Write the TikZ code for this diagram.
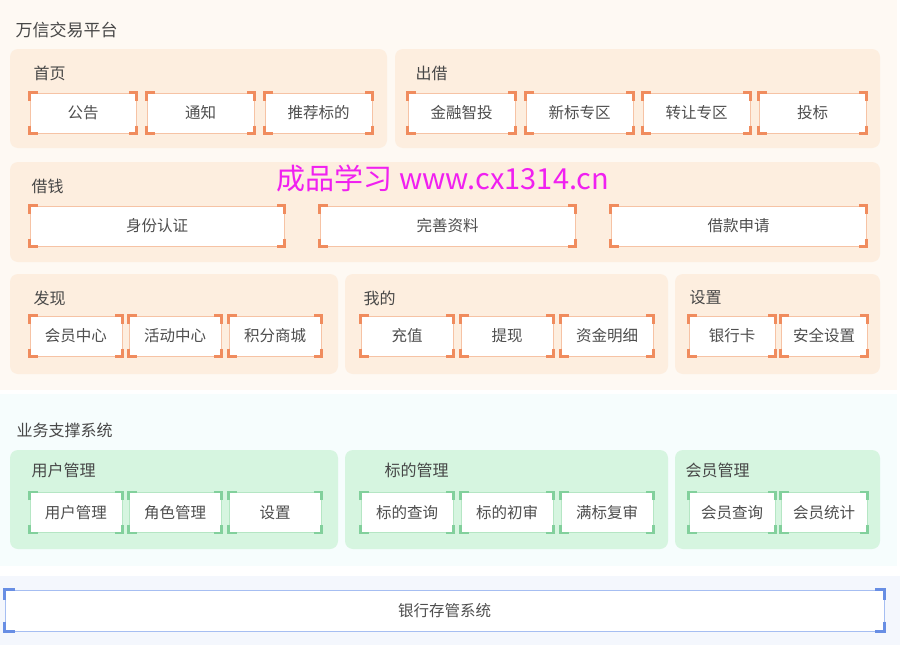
\documentclass[tikz,border=0pt]{standalone}
\usepackage{fontspec}
\setmainfont{Noto Sans CJK SC}
\usepackage{tikz}
\usetikzlibrary{positioning}
\definecolor{topBg}{RGB}{254,249,243}
\definecolor{midBg}{RGB}{246,253,253}
\definecolor{botBg}{RGB}{244,247,253}
\definecolor{palePeach}{RGB}{253,238,223}
\definecolor{paleGreen}{RGB}{214,245,224}
\definecolor{darkOrange}{RGB}{240,140,94}
\definecolor{lightOrange}{RGB}{246,195,165}
\definecolor{darkGreen}{RGB}{130,208,156}
\definecolor{lightGreen}{RGB}{181,230,196}
\definecolor{darkBlue}{RGB}{104,142,228}
\definecolor{lightBlue}{RGB}{166,190,242}
\definecolor{txtGray}{RGB}{78,78,78}
\definecolor{markPink}{RGB}{240,32,240}
% corner brackets of an item box
\newcommand{\brackets}[3]{%
  \foreach \c/\dx/\dy in {north west/1/-1,north east/-1/-1,south west/1/1,south east/-1/1}
    \draw[corner,#2] ([yshift=\dy*#3]#1.\c) -- (#1.\c) -- ([xshift=\dx*#3]#1.\c);
}

\begin{document}
\begin{tikzpicture}[x=1pt,y=-1pt,
  every node/.style={text=txtGray},
  lbl/.style={anchor=west,font=\fontsize{16}{19}\selectfont,text=black!72},
  item/.style={fill=white,line width=1pt,minimum height=40,inner sep=0pt,font=\fontsize{15.5}{18}\selectfont},
  obox/.style={item,draw=lightOrange},
  gbox/.style={item,draw=lightGreen},
  bbox/.style={item,draw=lightBlue},
  corner/.style={line width=2.2pt,line join=miter}]
\useasboundingbox (0,0) rectangle (906,648);
\fill[white] (0,0) rectangle (906,648);
% backgrounds
\fill[topBg] (0,0) rectangle (897,390);
\fill[midBg] (0,394) rectangle (897,566);
\fill[botBg] (0,576) rectangle (900,645);
% front end
\node[lbl,font=\fontsize{17}{20}\selectfont] (plat) at (12,30) {万信交易平台};
\fill[palePeach,rounded corners=8] (10,49) rectangle (387,148);
\fill[palePeach,rounded corners=8] (395,49) rectangle (880,148);
\fill[palePeach,rounded corners=8] (10,162) rectangle (880,262);
\fill[palePeach,rounded corners=8] (10,274) rectangle (338,374);
\fill[palePeach,rounded corners=8] (345,274) rectangle (668,374);
\fill[palePeach,rounded corners=8] (675,274) rectangle (880,374);
\node[lbl] (home) at (30,73) {首页};
\node[lbl] (lend) at (412,73) {出借};
\node[lbl] (borrow) at (28,186) {借钱};
\node[lbl] (find) at (30,298) {发现};
\node[lbl] (mine) at (360,298) {我的};
\node[lbl] (setup) at (686,298) {设置};
% row 1
\node[obox,minimum width=106] (notice) at (83,113) {公告};
\node[obox,minimum width=107] (inform) at (200.5,113) {通知};
\node[obox,minimum width=107] (recom) at (318.5,113) {推荐标的};
\node[obox,minimum width=107] (smart) at (461.5,113) {金融智投};
\node[obox,minimum width=107] (newz) at (579.5,113) {新标专区};
\node[obox,minimum width=107] (trans) at (696.5,113) {转让专区};
\node[obox,minimum width=107] (bid) at (812.5,113) {投标};
% row 2
\node[obox,minimum width=254] (ident) at (157,226) {身份认证};
\node[obox,minimum width=255] (info) at (447.5,226) {完善资料};
\node[obox,minimum width=255] (apply) at (738.5,226) {借款申请};
% row 3
\node[obox,minimum width=92] (member) at (76,336) {会员中心};
\node[obox,minimum width=92] (event) at (175,336) {活动中心};
\node[obox,minimum width=92] (shop) at (275,336) {积分商城};
\node[obox,minimum width=92] (charge) at (407,336) {充值};
\node[obox,minimum width=92] (draw) at (507,336) {提现};
\node[obox,minimum width=92] (funds) at (607,336) {资金明细};
\node[obox,minimum width=86] (card) at (732,336) {银行卡};
\node[obox,minimum width=86] (safe) at (824,336) {安全设置};
\foreach \n in {notice,inform,recom,smart,newz,trans,bid,ident,info,apply,
  member,event,shop,charge,draw,funds,card,safe}
  {\brackets{\n}{darkOrange}{8pt}}
% support system
\node[lbl] (support) at (13,430) {业务支撑系统};
\fill[paleGreen,rounded corners=8] (10,450) rectangle (338,549);
\fill[paleGreen,rounded corners=8] (345,450) rectangle (668,549);
\fill[paleGreen,rounded corners=8] (675,450) rectangle (880,549);
\node[lbl] (usermg) at (28,470) {用户管理};
\node[lbl] (bidmg) at (381,470) {标的管理};
\node[lbl] (membmg) at (682,470) {会员管理};
\node[gbox,minimum width=92] (user) at (76,512.5) {用户管理};
\node[gbox,minimum width=92] (role) at (175,512.5) {角色管理};
\node[gbox,minimum width=92] (conf) at (275,512.5) {设置};
\node[gbox,minimum width=92] (query) at (407,512.5) {标的查询};
\node[gbox,minimum width=92] (first) at (507,512.5) {标的初审};
\node[gbox,minimum width=92] (full) at (607,512.5) {满标复审};
\node[gbox,minimum width=86] (mquery) at (732,512.5) {会员查询};
\node[gbox,minimum width=86] (mstat) at (824,512.5) {会员统计};
\foreach \n in {user,role,conf,query,first,full,mquery,mstat}
  {\brackets{\n}{darkGreen}{8pt}}
% bank
\node[bbox,minimum width=879,minimum height=41] (bank) at (444.5,610.5) {银行存管系统};
\brackets{bank}{darkBlue}{10pt}
% watermark
\node[text=markPink,font=\fontsize{29}{34}\selectfont] (mark) at (443,178) {成品学习 www.cx1314.cn};
\end{tikzpicture}
\end{document}
